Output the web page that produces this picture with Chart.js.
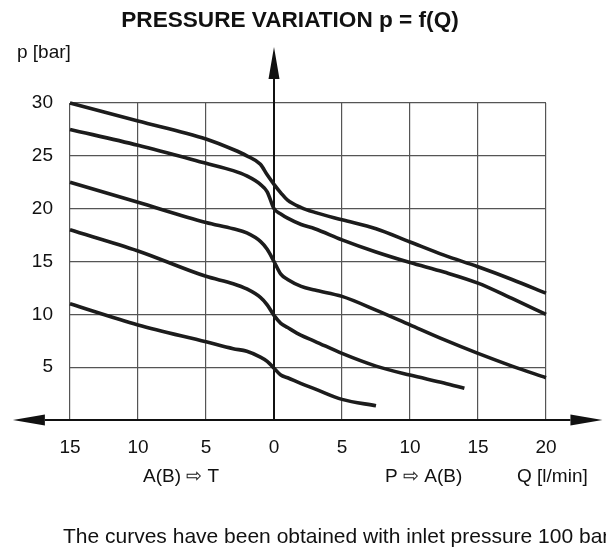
<!DOCTYPE html>
<html>
<head>
<meta charset="utf-8">
<script src="https://cdn.jsdelivr.net/npm/chart.js@4.4.1/dist/chart.umd.min.js"></script>
<style>
  body { margin: 0; background: #fff; }
  canvas { display: block; }
</style>
</head>
<body>
<canvas id="pqChart" width="606" height="550"></canvas>
<script>
// Q in l/min (negative = A(B) -> T side), p in bar
const qLong = [-15, -10, -5, -3, -2, -1, -0.5, 0, 0.5, 1, 2, 3, 5, 7.5, 10, 12.5, 15, 17.5, 20];
const curve1 = [30, 28.3, 26.6, 25.6, 25.0, 24.2, 23.2, 22.3, 21.5, 20.8, 20.1, 19.65, 18.95, 18.1, 16.85, 15.6, 14.5, 13.3, 12.0];
const curve2 = [27.5, 26.0, 24.3, 23.6, 23.1, 22.3, 21.6, 20.0, 19.5, 19.1, 18.5, 18.1, 17.05, 15.9, 14.9, 14.0, 12.95, 11.5, 10.0];
const curve3 = [22.5, 20.6, 18.7, 18.1, 17.7, 16.9, 16.15, 15.0, 13.8, 13.3, 12.65, 12.3, 11.7, 10.4, 9.0, 7.6, 6.3, 5.1, 4.0];

const qCurve4 = [-15, -10, -5, -3, -2, -1, -0.5, 0, 0.5, 1, 2, 3, 5, 7.5, 10, 12.5, 14];
const curve4 = [18, 16.0, 13.6, 12.9, 12.4, 11.6, 10.9, 9.9, 9.15, 8.75, 8.0, 7.45, 6.3, 5.1, 4.25, 3.5, 3.0];

const qCurve5 = [-15, -10, -5, -3, -2, -1, -0.5, 0, 0.5, 1, 2, 3, 5, 7.5];
const curve5 = [11, 9.0, 7.4, 6.75, 6.5, 5.95, 5.55, 4.9, 4.25, 4.0, 3.45, 2.95, 1.95, 1.35];

const qTicks = [-15, -10, -5, 0, 5, 10, 15, 20];
const pTicks = [0, 5, 10, 15, 20, 25, 30];

const FONT = "'Liberation Sans', Arial, Helvetica, sans-serif";

function pts(qs, ps) {
  return qs.map((q, i) => ({ x: q, y: ps[i] }));
}

function curve(qs, ps) {
  return {
    data: pts(qs, ps),
    borderColor: "#1c1c1c",
    borderWidth: 3.6,
    pointRadius: 0,
    cubicInterpolationMode: "monotone",
    clip: false
  };
}

const axisArrows = {
  id: "axisArrows",
  beforeDatasetsDraw(chart) {
    const { ctx, scales: { x, y } } = chart;
    const y0 = y.getPixelForValue(0);
    const x0 = x.getPixelForValue(0);
    const left = x.getPixelForValue(-19.2);
    const right = x.getPixelForValue(24.15);
    const top = y.getPixelForValue(35.3);
    const len = 32, half = 5.5;

    ctx.save();
    ctx.strokeStyle = "#111";
    ctx.fillStyle = "#111";
    ctx.lineWidth = 2;
    ctx.beginPath();
    ctx.moveTo(left + len, y0);
    ctx.lineTo(right - len, y0);
    ctx.moveTo(x0, y0);
    ctx.lineTo(x0, top + len);
    ctx.stroke();

    ctx.beginPath();
    ctx.moveTo(left, y0);
    ctx.lineTo(left + len, y0 - half);
    ctx.lineTo(left + len, y0 + half);
    ctx.closePath();
    ctx.moveTo(right, y0);
    ctx.lineTo(right - len, y0 - half);
    ctx.lineTo(right - len, y0 + half);
    ctx.closePath();
    ctx.moveTo(x0, top);
    ctx.lineTo(x0 - half, top + len);
    ctx.lineTo(x0 + half, top + len);
    ctx.closePath();
    ctx.fill();
    ctx.restore();
  }
};

const labels = {
  id: "labels",
  afterDraw(chart) {
    const ctx = chart.ctx;
    ctx.save();
    ctx.fillStyle = "#111";
    ctx.textBaseline = "alphabetic";

    ctx.textAlign = "center";
    ctx.font = "bold 22.6px " + FONT;
    ctx.fillText("PRESSURE VARIATION p = f(Q)", 290, 27);

    ctx.textAlign = "left";
    ctx.font = "19px " + FONT;
    ctx.fillText("p [bar]", 17, 58);

    ctx.fillText("A(B) \u21E8 T", 143, 482);
    ctx.fillText("P \u21E8 A(B)", 385, 482);
    ctx.fillText("Q [l/min]", 517, 482);

    ctx.font = "21px " + FONT;
    ctx.fillText("The curves have been obtained with inlet pressure 100 bar", 63, 543);
    ctx.restore();
  }
};

new Chart(document.getElementById("pqChart"), {
  type: "line",
  data: {
    datasets: [
      curve(qLong, curve1),
      curve(qLong, curve2),
      curve(qLong, curve3),
      curve(qCurve4, curve4),
      curve(qCurve5, curve5)
    ]
  },
  options: {
    responsive: false,
    animation: false,
    devicePixelRatio: 1,
    layout: { padding: { top: 103, right: 60, bottom: 0, left: 0 } },
    plugins: {
      legend: { display: false },
      tooltip: { enabled: false },
      title: { display: false }
    },
    scales: {
      x: {
        type: "linear",
        min: -15,
        max: 20,
        afterFit: s => { s.height = 130; },
        afterBuildTicks: s => { s.ticks = qTicks.map(v => ({ value: v })); },
        ticks: {
          padding: 16,
          color: "#111",
          font: { family: FONT, size: 19 },
          callback: v => String(Math.abs(v))
        },
        grid: { color: "#555", lineWidth: 1.2, drawTicks: false },
        border: { display: false }
      },
      y: {
        min: 0,
        max: 30,
        afterFit: s => { s.width = 70; },
        afterBuildTicks: s => { s.ticks = pTicks.map(v => ({ value: v })); },
        ticks: {
          padding: 17,
          color: "#111",
          font: { family: FONT, size: 19 },
          callback: v => (v === 0 ? "" : String(v))
        },
        grid: { color: "#555", lineWidth: 1.2, drawTicks: false },
        border: { display: false }
      }
    }
  },
  plugins: [axisArrows, labels]
});
</script>
</body>
</html>
